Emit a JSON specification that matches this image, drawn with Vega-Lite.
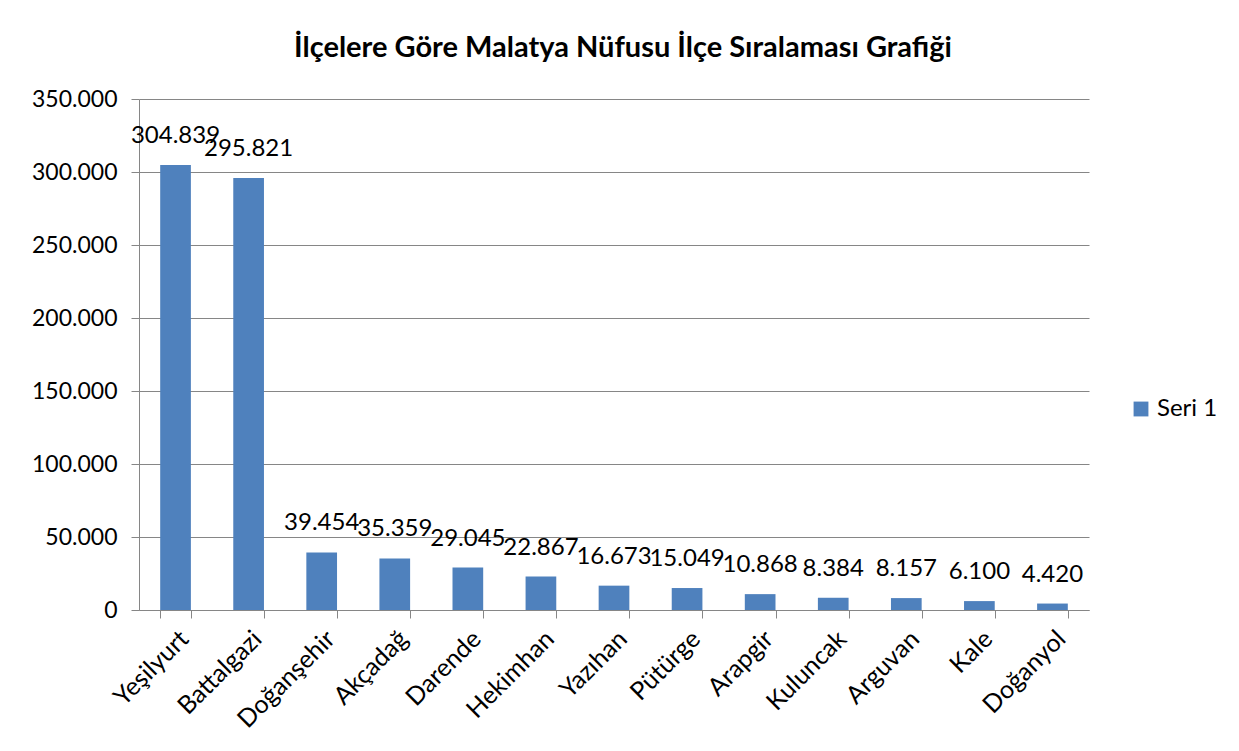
{
  "$schema": "https://vega.github.io/schema/vega-lite/v6.json",
  "autosize": {"type": "none"},
  "width": 950,
  "height": 511,
  "padding": {"left": 139, "top": 99, "right": 150, "bottom": 141},
  "background": "white",
  "config": {
    "locale": {"number": {"decimal": ",", "thousands": ".", "grouping": [3], "currency": ["", " TL"]}},
    "font": "Lato",
    "view": {"stroke": null}
  },
  "title": {
    "text": "İlçelere Göre Malatya Nüfusu İlçe Sıralaması Grafiği",
    "font": "Lato",
    "fontSize": 29,
    "fontWeight": "bold",
    "color": "#000000",
    "anchor": "middle",
    "offset": 25,
    "dx": 9
  },
  "data": {
    "values": [
      {"ilce": "Yeşilyurt", "nufus": 304839, "seri": "Seri 1"},
      {"ilce": "Battalgazi", "nufus": 295821, "seri": "Seri 1"},
      {"ilce": "Doğanşehir", "nufus": 39454, "seri": "Seri 1"},
      {"ilce": "Akçadağ", "nufus": 35359, "seri": "Seri 1"},
      {"ilce": "Darende", "nufus": 29045, "seri": "Seri 1"},
      {"ilce": "Hekimhan", "nufus": 22867, "seri": "Seri 1"},
      {"ilce": "Yazıhan", "nufus": 16673, "seri": "Seri 1"},
      {"ilce": "Pütürge", "nufus": 15049, "seri": "Seri 1"},
      {"ilce": "Arapgir", "nufus": 10868, "seri": "Seri 1"},
      {"ilce": "Kuluncak", "nufus": 8384, "seri": "Seri 1"},
      {"ilce": "Arguvan", "nufus": 8157, "seri": "Seri 1"},
      {"ilce": "Kale", "nufus": 6100, "seri": "Seri 1"},
      {"ilce": "Doğanyol", "nufus": 4420, "seri": "Seri 1"}
    ]
  },
  "encoding": {
    "x": {
      "field": "ilce",
      "type": "nominal",
      "sort": null,
      "scale": {"paddingInner": 0.58, "paddingOuter": 0.29},
      "axis": {
        "title": null,
        "labelAngle": -45,
        "labelFont": "Lato",
        "labelFontSize": 25,
        "labelColor": "#000000",
        "labelPadding": 8,
        "tickBand": "extent",
        "tickSize": 8,
        "tickColor": "#868686",
        "domainColor": "#868686",
        "grid": false
      }
    },
    "y": {
      "field": "nufus",
      "type": "quantitative",
      "scale": {"domain": [0, 350000], "nice": false},
      "axis": {
        "title": null,
        "format": ",d",
        "values": [0, 50000, 100000, 150000, 200000, 250000, 300000, 350000],
        "labelFont": "Lato",
        "labelFontSize": 23,
        "labelColor": "#000000",
        "labelPadding": 14,
        "tickSize": 8,
        "tickColor": "#868686",
        "domain": true,
        "domainColor": "#868686",
        "grid": true,
        "gridColor": "#868686",
        "gridWidth": 1
      }
    }
  },
  "layer": [
    {
      "mark": {"type": "bar", "color": "#4F81BD"},
      "encoding": {
        "color": {
          "field": "seri",
          "type": "nominal",
          "scale": {"range": ["#4F81BD"]},
          "legend": {
            "title": null,
            "orient": "none",
            "legendX": 990,
            "legendY": 298,
            "symbolType": "square",
            "symbolSize": 220,
            "symbolStrokeWidth": 0,
            "labelFont": "Lato",
            "labelFontSize": 24,
            "labelColor": "#000000"
          }
        }
      }
    },
    {
      "mark": {"type": "text", "baseline": "bottom", "dy": -17, "font": "Lato", "fontSize": 24, "color": "#000000"},
      "encoding": {
        "text": {"field": "nufus", "type": "quantitative", "format": ",d"}
      }
    }
  ]
}
